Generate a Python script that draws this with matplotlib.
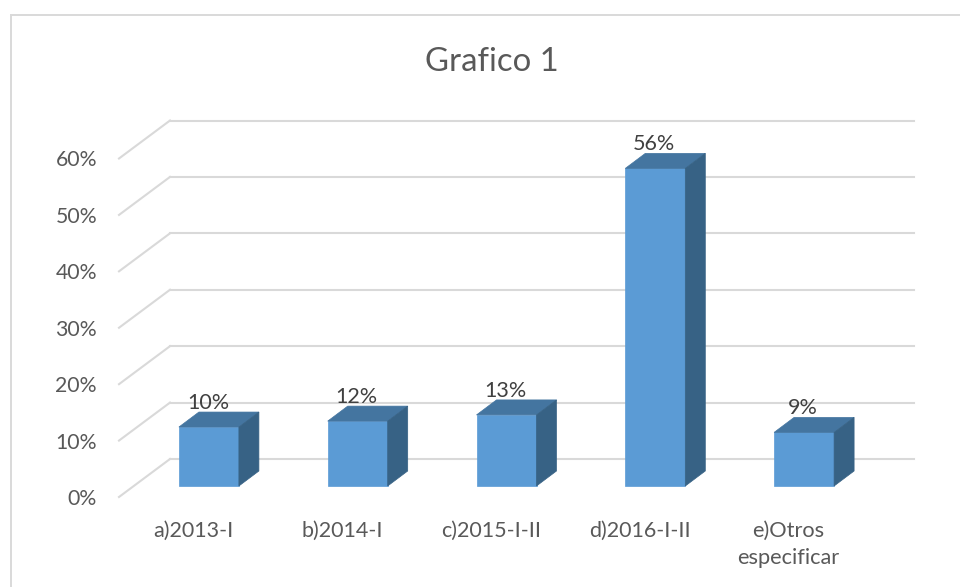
import matplotlib
matplotlib.use('Agg')
import matplotlib.pyplot as plt
from matplotlib.patches import Polygon, Rectangle

categories = ['a)2013-I', 'b)2014-I', 'c)2015-I-II', 'd)2016-I-II', 'e)Otros\nespecificar']
values = [10.45, 11.5, 12.6, 56.3, 9.5]
value_labels = ['10%', '12%', '13%', '56%', '9%']
y_ticks = [0, 10, 20, 30, 40, 50, 60]

plt.rcParams['font.family'] = ['Lato', 'DejaVu Sans']

W, H = 960, 587
fig = plt.figure(figsize=(W / 100, H / 100), dpi=100)

# frame of the pasted chart, open on the right and bottom
fig.add_artist(Rectangle((11 / W, -0.02), 1.0, 1 - 15 / H + 0.02, transform=fig.transFigure,
                         facecolor='white', edgecolor='#d9d9d9', linewidth=1.4, zorder=-1))

# axes = front plane of the 3D box
left, right, top, bottom = 119, 863, 158.5, 497
ax = fig.add_axes([left / W, 1 - bottom / H, (right - left) / W, (bottom - top) / H])
ax.set_xlim(-0.5, 4.5)
ax.set_ylim(0, 60)
ax.axis('off')

# one pixel in data units
px = 5 / (right - left)
py = 60 / (bottom - top)
depth_x, depth_y = 51 * px, 38 * py

grid = '#d9d9d9'
for t in y_ticks:
    ax.plot([-0.5, -0.5 + depth_x], [t, t + depth_y], color=grid, lw=1.5, clip_on=False, zorder=1)
    ax.plot([-0.5 + depth_x, 4.5 + depth_x], [t + depth_y, t + depth_y], color=grid, lw=1.5,
            clip_on=False, zorder=1)
    ax.text(-0.5 - 22 * px, t - 2 * py, f'{t}%', ha='right', va='center', fontsize=15.3, color='#595959')

bar_w = 60 * px
off_x, off_y = 15.5 * px, 11 * py
side_x, side_y = 20 * px, 15 * py
for i, (cat, v, lab) in enumerate(zip(categories, values, value_labels)):
    x0 = i - bar_w / 2 + off_x
    x1 = x0 + bar_w
    y0 = off_y
    y1 = off_y + v
    ax.add_patch(Rectangle((x0, y0), bar_w, v, facecolor='#5b9bd5', edgecolor='#5b9bd5', lw=0.5,
                           clip_on=False, zorder=3))
    ax.add_patch(Polygon([(x0, y1), (x1, y1), (x1 + side_x, y1 + side_y), (x0 + side_x, y1 + side_y)],
                         facecolor='#4475a0', edgecolor='#4475a0', lw=0.5, clip_on=False, zorder=3))
    ax.add_patch(Polygon([(x1, y0), (x1 + side_x, y0 + side_y), (x1 + side_x, y1 + side_y), (x1, y1)],
                         facecolor='#376285', edgecolor='#376285', lw=0.5, clip_on=False, zorder=3))
    ax.text(i + off_x - 1 * px, y1 + 24 * py, lab, ha='center', va='center', fontsize=15.5, color='#404040', zorder=4)
    if '\n' in cat:
        ax.text(i, -24 * py, cat, ha='center', va='top', fontsize=15.7, color='#595959',
                linespacing=1.45, clip_on=False)
    else:
        ax.text(i, -34 * py, cat, ha='center', va='center', fontsize=15.5, color='#595959', clip_on=False)

fig.text(492 / W, 1 - 62 / H, 'Grafico 1', ha='center', va='center', fontsize=23.7, color='#595959')

fig.savefig('out.png', dpi=100)
